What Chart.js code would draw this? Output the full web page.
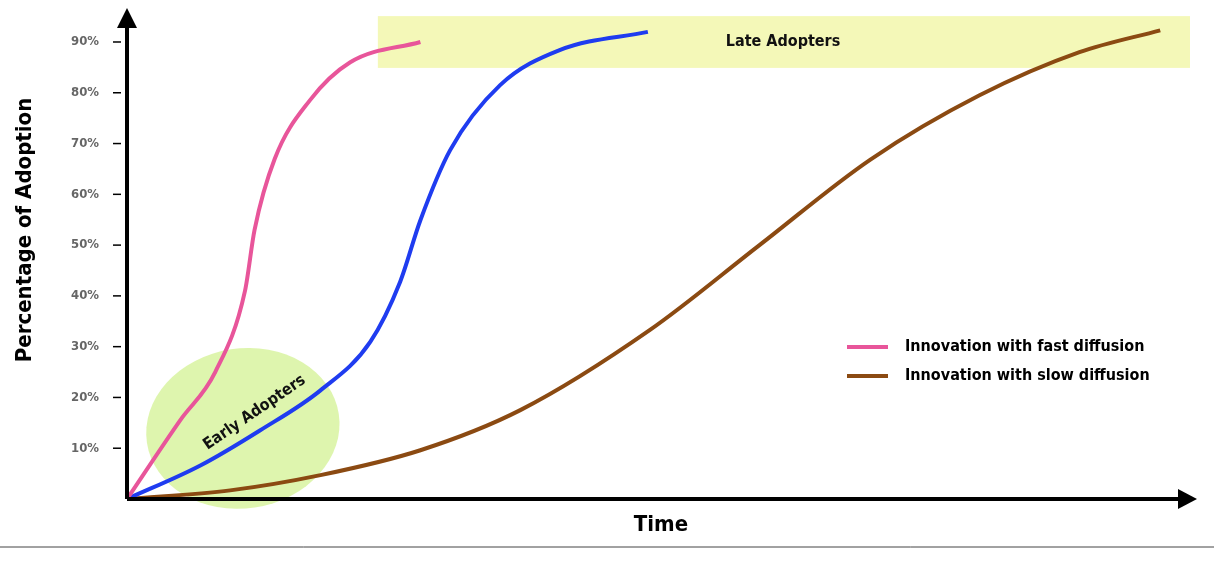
<!DOCTYPE html>
<html><head><meta charset="utf-8">
<script src="https://cdn.jsdelivr.net/npm/chart.js@4/dist/chart.umd.min.js"></script>
<style>html,body{margin:0;padding:0;background:#fff}#w{width:1214px;height:565px;position:relative}</style>
</head><body><div id="w"><canvas id="c" width="1214" height="565"></canvas></div>
<script>
const fastX=[0,5,8.3,11.1,12,13.9,17.2,21,27.6];
const fastY=[0,15.5,25,41,53,67,78.5,86,90];
const blueX=[0,6.9,12.5,18.2,22.9,25.7,27.6,30.4,35.1,40.7,49];
const blueY=[0,6.6,13.5,21.4,31,42.8,54.9,68.7,81.5,88.4,92];
const slowX=[0,9.7,18.2,27.6,37,49.2,59.5,69.9,80.2,89.6,97.2];
const slowY=[0,1.7,4.7,9.6,17.5,33.3,50,66.8,79.5,88,92.3];
const yTicks=[10,20,30,40,50,60,70,80,90];
const legendLabels=['Innovation with fast diffusion','Innovation with slow diffusion'];
const FONT='"DejaVu Sans Condensed","DejaVu Sans",sans-serif';
const pts=(xs,ys)=>xs.map((x,i)=>({x,y:ys[i]}));
const deco={id:'deco',
beforeDatasetsDraw(ch){const c=ch.ctx,x=ch.scales.x,y=ch.scales.y;c.save();
 c.fillStyle='rgba(240,245,160,0.75)';
 const x1=x.getPixelForValue(23.6),x2=x.getPixelForValue(100),y1=y.getPixelForValue(95.1),y2=y.getPixelForValue(84.9);
 c.fillRect(x1,y1,x2-x1,y2-y1);
 c.fillStyle='rgba(205,240,130,0.65)';c.beginPath();
 c.ellipse(x.getPixelForValue(10.9),y.getPixelForValue(13.9),97,80,-0.15,0,Math.PI*2);c.fill();
 c.fillStyle='#111';c.font='bold 16px '+FONT;c.textAlign='center';c.textBaseline='middle';
 c.fillText('Late Adopters',783,(y1+y2)/2);
 c.save();c.translate(x.getPixelForValue(12),y.getPixelForValue(17));c.rotate(-0.6);c.fillText('Early Adopters',0,0);c.restore();
 c.restore();},
afterDatasetsDraw(ch){const c=ch.ctx,x=ch.scales.x,y=ch.scales.y;c.save();
 const x0=x.getPixelForValue(0),y0=y.getPixelForValue(0);
 c.strokeStyle='#000';c.fillStyle='#000';c.lineWidth=4;
 c.beginPath();c.moveTo(x0,y0);c.lineTo(1185,y0);c.moveTo(x0,y0);c.lineTo(x0,22);c.stroke();
 c.beginPath();c.moveTo(1197,y0);c.lineTo(1178,y0-10);c.lineTo(1178,y0+10);c.fill();
 c.beginPath();c.moveTo(x0,8);c.lineTo(x0-10,28);c.lineTo(x0+10,28);c.fill();
 c.lineWidth=1;c.strokeStyle='#444';
 c.beginPath();c.moveTo(0,547);c.lineTo(1214,547);c.stroke();
 c.font='bold 13px '+FONT;c.fillStyle='#666';c.textAlign='right';c.textBaseline='middle';
 c.strokeStyle='#000';c.lineWidth=1.5;
 yTicks.forEach(t=>{const py=y.getPixelForValue(t);c.fillText(t+'%',99,py);c.beginPath();c.moveTo(113,py);c.lineTo(121,py);c.stroke();});
 c.fillStyle='#000';c.font='bold 22px '+FONT;c.textAlign='center';
 c.fillText('Time',661,525);
 c.save();c.translate(25,230);c.rotate(-Math.PI/2);c.fillText('Percentage of Adoption',0,0);c.restore();
 const cols=['#e8559a','#8b4a12'];c.font='bold 16px '+FONT;c.textAlign='left';
 legendLabels.forEach((l,i)=>{const py=347+i*29;c.strokeStyle=cols[i];c.lineWidth=4;c.beginPath();c.moveTo(847,py);c.lineTo(888,py);c.stroke();c.fillStyle='#000';c.fillText(l,905,py);});
 c.restore();}};
new Chart(document.getElementById('c'),{type:'scatter',
data:{datasets:[
 {data:pts(fastX,fastY),borderColor:'#e8559a',showLine:true,borderWidth:4,pointRadius:0,cubicInterpolationMode:'monotone'},
 {data:pts(blueX,blueY),borderColor:'#1f3cf0',showLine:true,borderWidth:4,pointRadius:0,cubicInterpolationMode:'monotone'},
 {data:pts(slowX,slowY),borderColor:'#8b4a12',showLine:true,borderWidth:4,pointRadius:0,cubicInterpolationMode:'monotone'}]},
options:{responsive:false,animation:false,devicePixelRatio:1,
 layout:{padding:{left:127,right:24,top:10,bottom:66}},
 plugins:{legend:{display:false},tooltip:{enabled:false}},
 scales:{x:{type:'linear',min:0,max:100,display:false},y:{min:0,max:96.3,display:false}}},
plugins:[deco]});
</script></body></html>
